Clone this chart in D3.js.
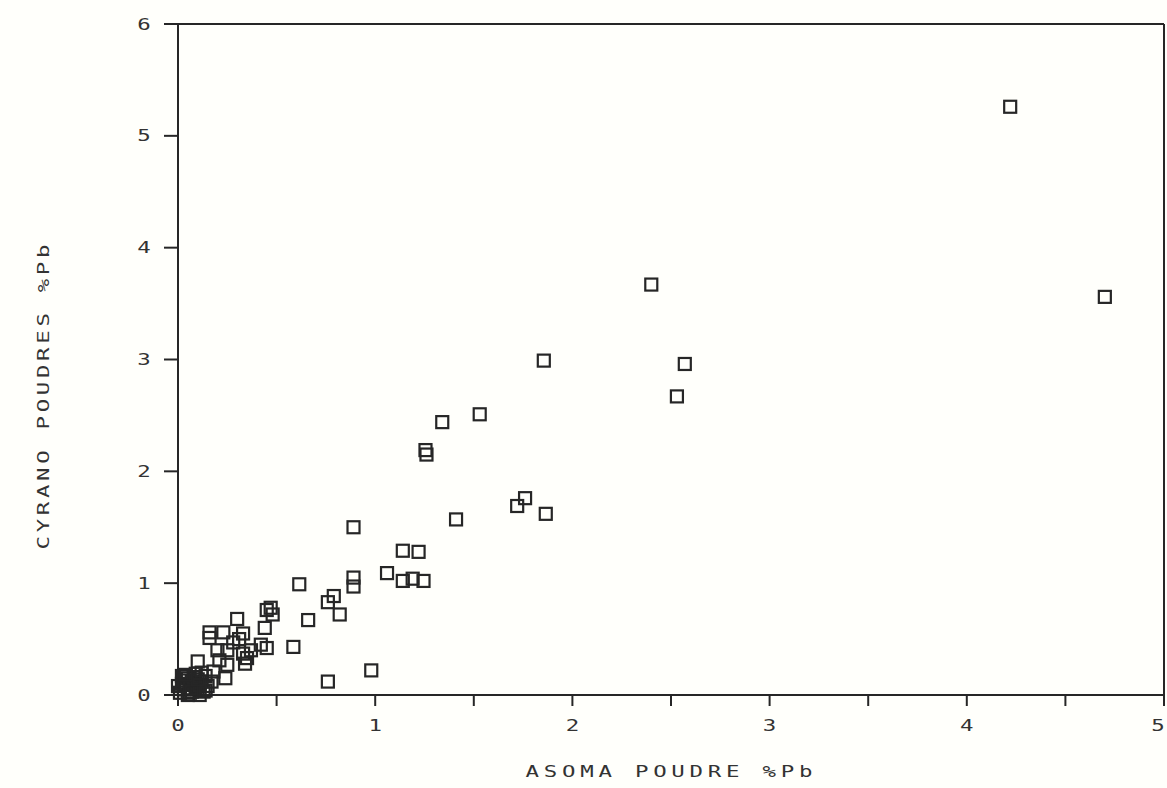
<!DOCTYPE html>
<html>
<head>
<meta charset="utf-8">
<script src="https://cdn.jsdelivr.net/npm/d3@7"></script>
<style>
  body { margin: 0; background: #fffffb; }
  svg { display: block; }
</style>
</head>
<body>
<div id="chart"></div>
<script>
(function () {
    'use strict';

    // ASOMA poudre %Pb (x) vs CYRANO poudres %Pb (y)
    const asoma = [
        4.22, 4.70, 2.40, 2.57, 2.53, 1.855, 1.34, 1.53, 1.255, 1.26,
        1.76, 1.72, 1.865, 1.41, 0.89, 1.14, 1.22,
        0.615, 0.89, 0.89, 1.06, 1.14, 1.19, 1.245, 0.79, 0.76, 0.82, 0.66, 0.585, 0.98, 0.76,
        0.47, 0.48, 0.45, 0.44, 0.30, 0.16, 0.16, 0.23, 0.33, 0.20, 0.25, 0.37, 0.42, 0.45,
        0.21, 0.25, 0.35, 0.33, 0.10, 0.24, 0.18, 0.34, 0.28, 0.31,
        0.02, 0.05, 0.08, 0.10, 0.03, 0.06, 0.12, 0.13, 0.09, 0.15, 0.01, 0.04, 0.07, 0.11,
        0.14, 0.05, 0.09, 0.02, 0.12,
        0.06, 0.03, 0.08, 0.11, 0.14, 0.17, 0.00, 0.07, 0.10, 0.04
    ];
    const cyrano = [
        5.26, 3.56, 3.67, 2.96, 2.67, 2.99, 2.44, 2.51, 2.19, 2.15,
        1.76, 1.69, 1.62, 1.57, 1.50, 1.29, 1.28,
        0.99, 1.05, 0.97, 1.09, 1.02, 1.04, 1.02, 0.885, 0.83, 0.72, 0.67, 0.43, 0.22, 0.12,
        0.78, 0.72, 0.76, 0.60, 0.68, 0.56, 0.51, 0.56, 0.55, 0.40, 0.40, 0.40, 0.45, 0.42,
        0.31, 0.27, 0.33, 0.37, 0.30, 0.15, 0.21, 0.28, 0.47, 0.50,
        0.17, 0.15, 0.10, 0.05, 0.05, 0.02, 0.12, 0.03, 0.19, 0.08, 0.02, 0.09, 0.12, 0.00,
        0.17, 0.00, 0.07, 0.10, 0.20,
        0.06, 0.13, 0.16, 0.09, 0.04, 0.12, 0.08, 0.03, 0.14, 0.18
    ];
    const xTicks = [0, 0.5, 1, 1.5, 2, 2.5, 3, 3.5, 4, 4.5, 5];
    const xLabels = [0, 1, 2, 3, 4, 5];
    const yTicks = [0, 1, 2, 3, 4, 5, 6];
    const xTitle = 'ASOMA POUDRE %Pb';
    const yTitle = 'CYRANO POUDRES %Pb';

    const width = 1167;
    const height = 788;
    const ink = '#262626';
    const font = '"DejaVu Sans Mono", monospace';
    const stretch = 1.4; // plotter glyphs are wide

    const x = d3.scaleLinear().domain([0, 5]).range([178, 1164]);
    const y = d3.scaleLinear().domain([0, 6]).range([695, 24]);

    const svg = d3.select('#chart').append('svg')
        .attr('width', width)
        .attr('height', height);

    const g = svg.append('g')
        .attr('stroke', ink)
        .attr('stroke-width', 2)
        .attr('fill', 'none');

    // frame: bottom axis, left axis, top and right borders
    g.append('line').attr('x1', x(0) - 14).attr('x2', x(5)).attr('y1', y(0)).attr('y2', y(0));
    g.append('line').attr('x1', x(0)).attr('x2', x(0)).attr('y1', y(0) + 11).attr('y2', y(6));
    g.append('line').attr('x1', x(0) - 14).attr('x2', x(5)).attr('y1', y(6)).attr('y2', y(6));
    g.append('line').attr('x1', x(5)).attr('x2', x(5)).attr('y1', y(6)).attr('y2', y(0) + 11);

    g.selectAll('line.xtick')
        .data(xTicks)
        .join('line')
        .attr('class', 'xtick')
        .attr('x1', d => x(d)).attr('x2', d => x(d))
        .attr('y1', y(0)).attr('y2', y(0) + 11);

    g.selectAll('line.ytick')
        .data(yTicks)
        .join('line')
        .attr('class', 'ytick')
        .attr('x1', x(0) - 14).attr('x2', x(0))
        .attr('y1', d => y(d)).attr('y2', d => y(d));

    const txt = svg.append('g')
        .attr('fill', '#333')
        .attr('font-family', font)
        .attr('font-size', 16);

    // last label kept inside the page edge
    txt.selectAll('text.xl')
        .data(xLabels)
        .join('text')
        .attr('class', 'xl')
        .attr('transform', d => `translate(${Math.min(x(d), width - 9)},731) scale(${stretch},1)`)
        .attr('text-anchor', 'middle')
        .text(d => d);

    txt.selectAll('text.yl')
        .data(yTicks)
        .join('text')
        .attr('class', 'yl')
        .attr('transform', d => `translate(144,${y(d)}) scale(${stretch},1)`)
        .attr('dy', '0.35em')
        .attr('text-anchor', 'middle')
        .text(d => d);

    txt.append('text')
        .attr('transform', `translate(669,777) scale(${stretch},1)`)
        .attr('text-anchor', 'middle')
        .attr('textLength', 287 / stretch)
        .attr('lengthAdjust', 'spacing')
        .text(xTitle);

    txt.append('text')
        .attr('transform', `translate(49,397) rotate(-90) scale(${stretch},1)`)
        .attr('text-anchor', 'middle')
        .attr('textLength', 305 / stretch)
        .attr('lengthAdjust', 'spacing')
        .text(yTitle);

    // square markers
    const s = 12;
    svg.append('g')
        .attr('fill', 'none')
        .attr('stroke', ink)
        .attr('stroke-width', 2.2)
        .selectAll('rect')
        .data(d3.range(asoma.length))
        .join('rect')
        .attr('x', i => x(asoma[i]) - s / 2)
        .attr('y', i => y(cyrano[i]) - s / 2)
        .attr('width', s)
        .attr('height', s);
})();
</script>
</body>
</html>
